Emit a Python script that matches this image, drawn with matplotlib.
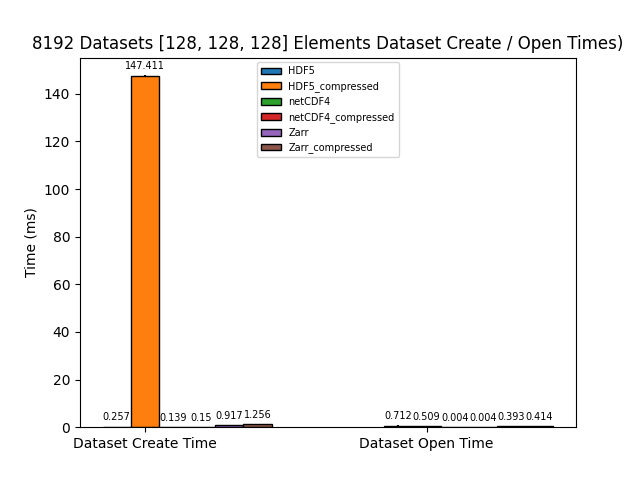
import matplotlib
matplotlib.use("Agg")
import matplotlib.pyplot as plt
import numpy as np

categories = ["Dataset Create Time", "Dataset Open Time"]
series_names = ["HDF5", "HDF5_compressed", "netCDF4", "netCDF4_compressed", "Zarr", "Zarr_compressed"]
create_times = [0.257, 147.411, 0.139, 0.15, 0.917, 1.256]
open_times = [0.712, 0.509, 0.004, 0.004, 0.393, 0.414]
errors_create = [0.01, 0.4, 0.01, 0.01, 0.03, 0.03]
errors_open = [0.02, 0.02, 0.0, 0.0, 0.01, 0.01]

fig, ax = plt.subplots(figsize=(6.4, 4.8), dpi=100)
x = np.arange(len(categories))
w = 0.1
for i, name in enumerate(series_names):
    vals = [create_times[i], open_times[i]]
    errs = [errors_create[i], errors_open[i]]
    bars = ax.bar(x + (i - 1) * w, vals, w, yerr=errs, label=name, edgecolor="black")
    ax.bar_label(bars, labels=[str(v) for v in vals], padding=3, fontsize=7)

ax.set_xticks(x)
ax.set_xticklabels(categories, fontsize=10)
ax.set_ylabel("Time (ms)")
ax.set_title("8192 Datasets [128, 128, 128] Elements Dataset Create / Open Times)")
ax.legend(loc="upper center", fontsize=7)
fig.savefig("out.png")
